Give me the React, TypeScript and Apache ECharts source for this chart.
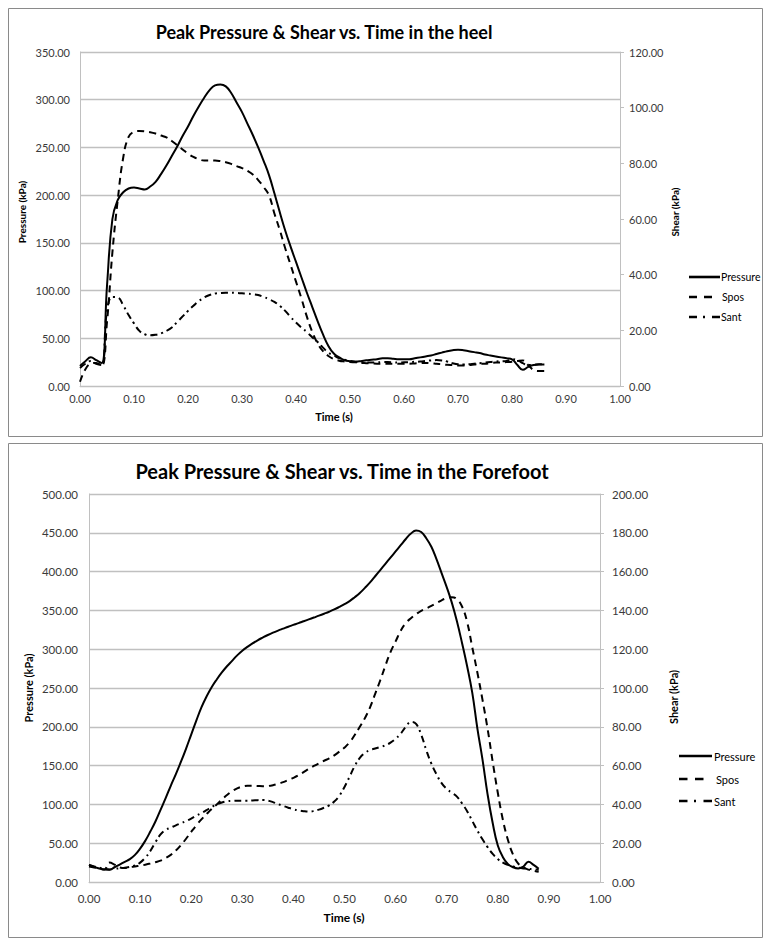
import React, { useEffect, useRef } from "react";
import * as echarts from "echarts";

// ---------- Heel chart data ----------
const heelTime = [
  0.0, 0.01, 0.02, 0.03, 0.04, 0.05, 0.06, 0.07, 0.08, 0.09,
  0.1, 0.11, 0.12, 0.13, 0.14, 0.15, 0.16, 0.17, 0.18, 0.19,
  0.2, 0.21, 0.22, 0.23, 0.24, 0.25, 0.26, 0.27, 0.28, 0.29,
  0.3, 0.31, 0.32, 0.33, 0.34, 0.35, 0.36, 0.37, 0.38, 0.39,
  0.4, 0.41, 0.42, 0.43, 0.44, 0.45, 0.46, 0.47, 0.48, 0.49,
  0.5, 0.51, 0.52, 0.53, 0.54, 0.55, 0.56, 0.57, 0.58, 0.59,
  0.6, 0.61, 0.62, 0.63, 0.64, 0.65, 0.66, 0.67, 0.68, 0.69,
  0.7, 0.71, 0.72, 0.73, 0.74, 0.75, 0.76, 0.77, 0.78, 0.79,
  0.8, 0.81, 0.82, 0.83, 0.84, 0.85, 0.86,
];
const heelPressure = [
  21, 26, 30, 27, 24, 105, 175, 195, 203, 207,
  208, 207, 206, 209, 214, 222, 231, 241, 251, 262,
  272, 283, 293, 302, 310, 315, 316, 314, 307, 297,
  287, 275, 263, 250, 236, 221, 202, 182, 163, 146,
  130, 114, 98, 83, 68, 54, 42, 34, 30, 27,
  26, 25.5, 26, 27, 27.5, 28, 29, 29, 28.5, 28,
  28, 28, 29, 30, 31, 32, 33.5, 35, 36.5, 37.5,
  38, 37.5, 36.5, 35.5, 34.5, 33, 32, 31, 30, 29,
  28, 22, 17, 20, 22, 22.5, 22.5,
];
const heelSpos = [
  1.5, 6, 8, 8.3, 7.2, 23, 48, 67, 82, 89.5,
  91.3, 91.6, 91.5, 91.2, 90.7, 90, 89.3, 88, 86.5, 85,
  83.5, 82.3, 81.5, 81, 81, 81, 80.8, 80.4, 79.8, 79,
  78.3, 77.3, 76, 74, 71.5, 68.5, 62, 56, 49.5, 43.5,
  37.5, 31.5, 25, 19.5, 15.3, 12.5, 10.8, 9.7, 9.1, 8.8,
  8.6, 8.5, 8.3, 8.2, 8.1, 8, 8, 8, 8, 8,
  8, 8, 8.1, 8.2, 8.3, 8.2, 8, 7.8, 7.6, 7.5,
  7.4, 7.4, 7.5, 7.7, 7.9, 8, 8.2, 8.4, 8.5, 8.6,
  8.7, 9, 9.2, 7.5, 5.8, 5.4, 5.4,
];
const heelSant = [
  6.5, 8, 9, 8, 7.5, 27, 32, 31.8, 29, 25.5,
  22.5, 19.8, 18.6, 18.2, 18.4, 18.9, 19.8, 21, 23, 25,
  27, 28.8, 30.5, 31.8, 32.7, 33.2, 33.4, 33.5, 33.5, 33.4,
  33.3, 33.2, 33, 32.7, 32, 31.2, 30.2, 28.8, 27, 24.8,
  22.8, 21, 19.4, 17.5, 15.8, 13.8, 12, 11, 10, 9.4,
  9, 8.7, 8.5, 8.4, 8.4, 8.5, 8.6, 8.6, 8.5, 8.4,
  8.5, 8.6, 8.7, 8.8, 9, 9.2, 9.3, 9.2, 8.8, 8.2,
  7.8, 7.7, 7.8, 8, 8.2, 8.4, 8.6, 8.8, 8.9, 9,
  9.6, 9.3, 8.2, 7.5, 7.6, 7.8, 7.8,
];

// ---------- Forefoot chart data ----------
const footTime = [
  0.0, 0.01, 0.02, 0.03, 0.04, 0.05, 0.06, 0.07, 0.08, 0.09,
  0.1, 0.11, 0.12, 0.13, 0.14, 0.15, 0.16, 0.17, 0.18, 0.19,
  0.2, 0.21, 0.22, 0.23, 0.24, 0.25, 0.26, 0.27, 0.28, 0.29,
  0.3, 0.31, 0.32, 0.33, 0.34, 0.35, 0.36, 0.37, 0.38, 0.39,
  0.4, 0.41, 0.42, 0.43, 0.44, 0.45, 0.46, 0.47, 0.48, 0.49,
  0.5, 0.51, 0.52, 0.53, 0.54, 0.55, 0.56, 0.57, 0.58, 0.59,
  0.6, 0.61, 0.62, 0.63, 0.64, 0.65, 0.66, 0.67, 0.68, 0.69,
  0.7, 0.71, 0.72, 0.73, 0.74, 0.75, 0.76, 0.77, 0.78, 0.79,
  0.8, 0.81, 0.82, 0.83, 0.84, 0.85, 0.86, 0.87, 0.88,
];
const footPressure = [
  22, 19.5, 17.3, 16, 15.8, 19, 22.5, 26, 29.5, 35,
  43, 53, 65, 78, 93, 108, 124, 139, 155, 172,
  190, 208, 225, 239, 251, 261, 270, 278, 285, 292,
  298, 303, 307.5, 311.5, 315, 318.3, 321.3, 324, 326.5, 329,
  331.3, 333.6, 336, 338.4, 340.8, 343.2, 345.7, 348.3, 351.2, 354.5,
  358, 362, 367, 372.5, 379, 386, 394, 402, 410, 418,
  426, 434, 442, 449, 453, 451, 443, 432, 416, 398,
  380, 360, 336, 308, 278, 244, 198, 158, 113, 76,
  47, 32, 23, 19, 17.5, 20, 26, 22, 17,
];
const footSpos = [
  8, 7.5, 7, 6.5, 10, 9, 7.5, 7.2, 7.6, 8,
  8.4, 8.9, 9.5, 10.2, 11, 12.3, 14, 16.2, 19, 22.3,
  25.8, 29.2, 32.3, 35, 37.6, 40, 42.5, 44.8, 46.8, 48.3,
  49.2, 49.6, 49.6, 49.5, 49.4, 49.5, 49.9, 50.6, 51.5, 52.6,
  53.7, 55, 56.6, 58.3, 59.8, 61.2, 62.5, 63.7, 65.3, 67.2,
  69.3, 72, 75.8, 80, 84.5, 90, 97, 104, 111.5, 118.5,
  124, 129.5, 133.5, 136, 138, 139.8, 141, 142.3, 143.7, 145.2,
  146.3, 146.8, 145.8, 142, 134, 121, 108, 94, 79, 62,
  46, 32, 21.5, 14, 9.5, 7.5, 6.4, 5.8, 5.3,
];
const footSant = [
  8.8, 8, 7.4, 6.8, 6.5, 6.8, 7.1, 7.4, 7.8, 8.5,
  10, 12.5, 16, 20.5, 24.5, 26.8, 28, 29.2, 30.3, 31.4,
  32.7, 34.2, 35.5, 37, 38.6, 40, 41, 41.6, 41.8, 41.9,
  41.9, 41.9, 42, 42.2, 42.3, 42, 41.2, 40.2, 39.2, 38.3,
  37.5, 36.9, 36.5, 36.3, 36.6, 37.3, 38.3, 39.5, 41.5, 44.5,
  49, 54.3, 59.8, 64, 66.5, 68, 68.8, 69.6, 70.4, 71.8,
  73.8, 76.5, 80, 82.5, 81.5, 76, 68, 61, 55.5, 51,
  48, 46, 44, 40.5, 36.5, 31.5, 26.5, 22, 18, 14.5,
  11.8, 10, 8.8, 8, 7.4, 7, 6.8, 6.5, 6.3,
];

const seriesNames = ["Pressure", "Spos", "Sant"];
const heelTitle = "Peak Pressure & Shear vs. Time in the heel";
const footTitle = "Peak Pressure & Shear vs. Time in the Forefoot";
const xName = "Time (s)";
const leftName = "Pressure (kPa)";
const rightName = "Shear (kPa)";

const FONT = "Lato";
const GRID_COLOR = "#c0c0c0";
const LABEL_COLOR = "#3a3a3a";
const DASH_SPOS = [7, 5];
const DASH_SANT = [7, 4, 2, 4];

const fmt = (v: number) => v.toFixed(2);

function pairs(t: number[], v: number[]) {
  return t.map((x, i) => [x, v[i]]);
}

export default function App() {
  const ref = useRef<HTMLDivElement>(null);
  useEffect(() => {
    if (!ref.current) return;
    const chart = echarts.init(ref.current, undefined, { renderer: "svg" });

    const xAxisBase = (gridIndex: number, margin: number, fs: number) => ({
      type: "value",
      gridIndex,
      min: 0,
      max: 1,
      interval: 0.1,
      axisLine: { show: true, lineStyle: { color: GRID_COLOR, width: 1 } },
      axisTick: { show: false },
      splitLine: { show: false },
      axisLabel: { formatter: fmt, color: LABEL_COLOR, fontFamily: FONT, fontSize: fs, margin },
    });
    const yLeft = (gridIndex: number, max: number, margin: number, fs: number) => ({
      type: "value",
      gridIndex,
      position: "left",
      min: 0,
      max,
      interval: 50,
      axisLine: { show: true, lineStyle: { color: GRID_COLOR, width: 1 } },
      axisTick: { show: false },
      splitLine: { show: true, lineStyle: { color: GRID_COLOR, width: 1.3 } },
      axisLabel: { formatter: fmt, color: LABEL_COLOR, fontFamily: FONT, fontSize: fs, margin },
    });
    const yRight = (gridIndex: number, max: number, margin: number, fs: number) => ({
      type: "value",
      gridIndex,
      position: "right",
      min: 0,
      max,
      interval: 20,
      axisLine: { show: true, lineStyle: { color: GRID_COLOR, width: 1 } },
      axisTick: { show: true, inside: false, length: 4, lineStyle: { color: GRID_COLOR } },
      splitLine: { show: false },
      axisLabel: { formatter: fmt, color: LABEL_COLOR, fontFamily: FONT, fontSize: fs, margin },
    });

    const mkSeries = (
      name: string,
      xi: number,
      yi: number,
      t: number[],
      v: number[],
      type: any
    ) => ({
      name,
      type: "line",
      xAxisIndex: xi,
      yAxisIndex: yi,
      data: pairs(t, v),
      showSymbol: false,
      symbol: "none",
      smooth: 0.45,
      silent: true,
      lineStyle: { color: "#000", width: 2, type, cap: "butt", join: "round" },
    });

    const txt = (
      text: string,
      x: number,
      y: number,
      size: number,
      weight: string,
      align: string = "center",
      rotation = 0
    ) => ({
      type: "text",
      x,
      y,
      rotation,
      silent: true,
      style: {
        text,
        fill: "#000",
        fontFamily: FONT,
        fontSize: size,
        fontWeight: weight,
        align,
        verticalAlign: "middle",
        textAlign: align,
        textVerticalAlign: "middle",
      },
    });
    const legLine = (x1: number, x2: number, y: number, dash: number[] | null) => ({
      type: "line",
      silent: true,
      shape: { x1, y1: y, x2, y2: y },
      style: { stroke: "#000", lineWidth: 2.6, lineDash: dash || undefined },
    });

    const option: any = {
      animation: false,
      grid: [
        { left: 80, top: 52, width: 540, height: 334 },
        { left: 89, top: 494, width: 511, height: 388 },
      ],
      xAxis: [xAxisBase(0, 7, 11), xAxisBase(1, 10, 11.5)],
      yAxis: [yLeft(0, 350, 10, 11), yRight(0, 120, 9, 11), yLeft(1, 500, 11, 11.5), yRight(1, 200, 12, 11.5)],
      series: [
        mkSeries(seriesNames[0], 0, 0, heelTime, heelPressure, "solid"),
        mkSeries(seriesNames[1], 0, 1, heelTime, heelSpos, DASH_SPOS),
        mkSeries(seriesNames[2], 0, 1, heelTime, heelSant, DASH_SANT),
        mkSeries(seriesNames[0], 1, 2, footTime, footPressure, "solid"),
        mkSeries(seriesNames[1], 1, 3, footTime, footSpos, DASH_SPOS),
        mkSeries(seriesNames[2], 1, 3, footTime, footSant, DASH_SANT),
      ],
      graphic: [
        {
          type: "rect",
          silent: true,
          shape: { x: 8.5, y: 8.5, width: 754, height: 428 },
          style: { fill: "none", stroke: "#8a8a8a", lineWidth: 1 },
        },
        {
          type: "rect",
          silent: true,
          shape: { x: 8.5, y: 443.5, width: 754, height: 494 },
          style: { fill: "none", stroke: "#8a8a8a", lineWidth: 1 },
        },
        txt(heelTitle, 324, 32, 18, "bold"),
        txt(footTitle, 342, 471, 20, "bold"),
        txt(xName, 334, 416, 11, "bold"),
        txt(xName, 344, 917, 12, "bold"),
        txt(leftName, 22, 212, 10, "bold", "center", Math.PI / 2),
        txt(leftName, 28, 688, 11, "bold", "center", Math.PI / 2),
        txt(rightName, 675, 212, 10, "bold", "center", Math.PI / 2),
        txt(rightName, 673, 697, 11, "bold", "center", Math.PI / 2),
        // heel legend
        legLine(689, 720, 277, null),
        legLine(689, 712, 297, [8, 7]),
        legLine(689, 720, 317, [8, 6, 2, 7]),
        txt(seriesNames[0], 721, 277, 10.5, "normal", "left"),
        txt(seriesNames[1], 722, 297, 10.5, "normal", "left"),
        txt(seriesNames[2], 721, 317, 10.5, "normal", "left"),
        // forefoot legend
        legLine(679, 712, 756, null),
        legLine(679, 704, 779, [8.5, 7.5]),
        legLine(679, 712, 801, [8.5, 6.5, 2, 7.5]),
        txt(seriesNames[0], 714, 756, 11, "normal", "left"),
        txt(seriesNames[1], 716, 779, 11, "normal", "left"),
        txt(seriesNames[2], 714, 801, 11, "normal", "left"),
      ],
    };
    chart.setOption(option);
    return () => chart.dispose();
  }, []);
  return (
    <div
      ref={ref}
      style={{ position: "absolute", left: 0, top: 0, width: 765, height: 939, background: "#fff" }}
    />
  );
}
